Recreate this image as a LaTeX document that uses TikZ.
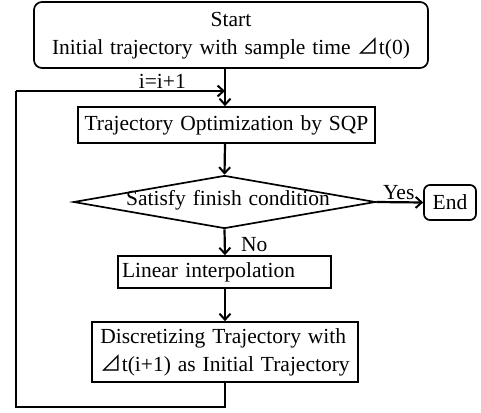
\documentclass[tikz,border=0pt]{standalone}
\usepackage{fontspec}
\setmainfont{Liberation Serif}
\newfontfamily\symfont{Noto Sans CJK SC}
\usetikzlibrary{shapes.geometric,arrows.meta}
\newcommand{\tri}{{\symfont\char"22BF}}
\newcommand{\widesp}{\spaceskip=0.32em plus 0.1em\relax}
\begin{document}
\begin{tikzpicture}[x=1pt,y=-1pt,
  every node/.style={font=\fontsize{21.5pt}{28pt}\selectfont\widesp},
  box/.style={draw,line width=1.7pt,inner sep=4pt},
  rbox/.style={box,rounded corners=8pt},
  arr/.style={line width=2.2pt,-{Straight Barb[length=6pt,width=11pt,line width=2pt]}},
  ln/.style={line width=2.2pt}]
\useasboundingbox (0,0) rectangle (481,412);
\node[rbox,minimum width=394pt,minimum height=66pt,align=center,text depth=3pt] (start) at (231,35)
  {Start\\Initial trajectory with sample time \tri t(0)};
\node[box,minimum width=297pt,minimum height=36pt] (sqp) at (226.5,125)
  {Trajectory Optimization by SQP};
\node[draw,diamond,line width=1.7pt,minimum width=302pt,minimum height=53pt,inner sep=0pt] (cond) at (224.5,202) {};
\node (condt) at (228,200) {Satisfy finish condition};
\node[rbox,rounded corners=6pt,minimum width=52pt,minimum height=35pt,inner sep=2pt] (end) at (450,202.5) {End};
\node[box,text width=205pt,minimum height=32pt,align=left] (lin) at (224.5,272) {Linear interpolation};
\node[box,minimum width=266pt,minimum height=60pt,align=left,inner xsep=3pt,text depth=3pt] (disc) at (225,352)
  {Discretizing Trajectory with\\\tri t(i+1) as Initial Trajectory};
\coordinate (lb) at (16,407);
\coordinate (lt) at (16,91);
\coordinate (join) at (225,91);
\draw[arr] (225,0 |- start.south) -- (225,0 |- sqp.north);
\draw[arr] (225,0 |- sqp.south) -- (cond.north);
\draw[arr] (cond.east) -- node[above,inner sep=1pt,xshift=-1pt] {Yes} (end.west);
\draw[arr] (cond.south) -- node[right,xshift=12pt,yshift=-2pt] {No} (225,0 |- lin.north);
\draw[arr] (225,0 |- lin.south) -- (225,0 |- disc.north);
\draw[ln] (225,0 |- disc.south) |- (lb) -- (lt);
\draw[arr] (lt) -- node[pos=0.7,above,inner sep=1pt] {i=i+1} (join);
\end{tikzpicture}
\end{document}
